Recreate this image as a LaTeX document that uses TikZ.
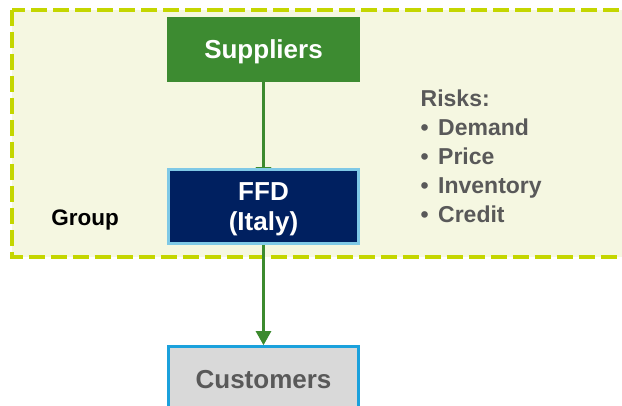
\documentclass[tikz,border=0pt]{standalone}
\usepackage{fontspec}
\setmainfont{Liberation Sans}
\usetikzlibrary{positioning}
\usetikzlibrary{arrows.meta}

\definecolor{grpfill}{HTML}{F5F7E1}
\definecolor{grpline}{HTML}{C4D600}
\definecolor{supgreen}{HTML}{3D8B31}
\definecolor{ffdnavy}{HTML}{002060}
\definecolor{ffdline}{HTML}{7FC9E6}
\definecolor{custfill}{HTML}{D9D9D9}
\definecolor{custline}{HTML}{1BA1DC}
\definecolor{textgray}{HTML}{595959}
\definecolor{arrowgreen}{HTML}{3C8A2E}

\pgfdeclarelayer{behind}
\pgfsetlayers{behind,main}

\begin{document}
\begin{tikzpicture}[x=1pt, y=1pt, node distance=86pt, common/.style={minimum width=193pt, font=\bfseries\fontsize{26}{30}\selectfont, align=center, inner sep=0pt, text depth=0pt}]
\tikzstyle{grouping}=[draw=grpline, fill=grpfill, line width=4pt, dash pattern=on 16pt off 6pt]
\tikzstyle{flow}=[draw=arrowgreen, line width=2.5pt, -{Triangle[width=15pt,length=14pt]}]
\tikzstyle{texto}=[font=\bfseries\fontsize{23}{28.8}\selectfont, align=left, inner sep=0pt]

\useasboundingbox (0,0) rectangle (622,-406);
\clip (0,0) rectangle (622,-406);

\node (S) [common, fill=supgreen, text=white, minimum height=65pt] at (263.5,-49.5) {Suppliers};
\node (F) [common, fill=ffdnavy, draw=ffdline, line width=3pt, text=white, minimum width=190pt, minimum height=74pt, below=of S] {FFD\\(Italy)};
\node (C) [common, fill=custfill, draw=custline, line width=3pt, text=textgray, minimum width=190pt, minimum height=66pt, below=100pt of F] {Customers};

% group frame
\begin{pgfonlayer}{behind}
\draw [grouping] (11.5,-10) rectangle (640,-257);
\draw [flow, shorten >=-13pt] (S) -- (F);
\end{pgfonlayer}

\draw [flow] (F) -- (C);

% labels
\node (grp) [texto, text=black, font=\bfseries\fontsize{22.5}{27}\selectfont] at (85,-220) {Group};
\node (risks) [texto, text=textgray, anchor=north west] at (420.5,-90) {Risks:\\
\makebox[17.5pt][l]{\textbullet}Demand\\
\makebox[17.5pt][l]{\textbullet}Price\\
\makebox[17.5pt][l]{\textbullet}Inventory\\
\makebox[17.5pt][l]{\textbullet}Credit};
\end{tikzpicture}
\end{document}
